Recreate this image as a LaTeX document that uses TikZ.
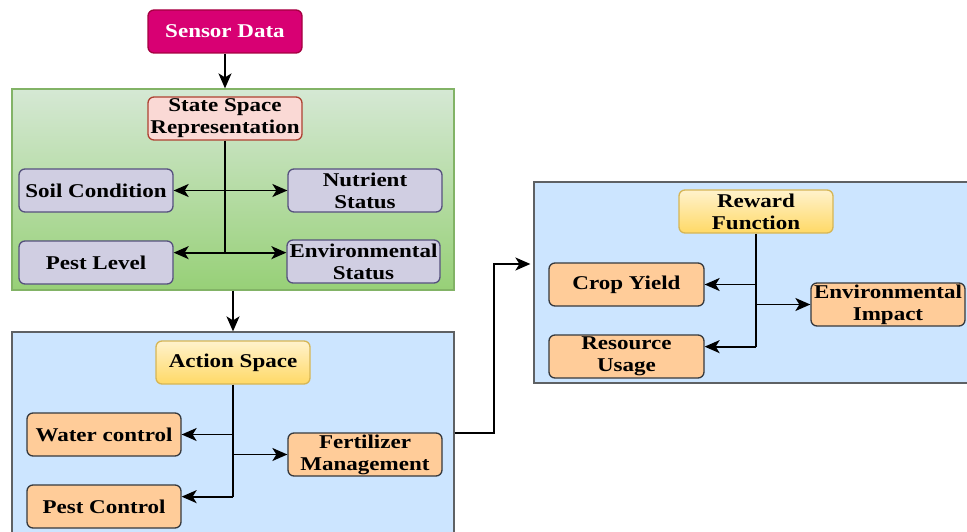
\documentclass[tikz,border=0pt]{standalone}
\usepackage{fontspec}
\newfontfamily\lbl{Liberation Serif}[FakeStretch=1.18]
\usetikzlibrary{arrows.meta,calc}
\definecolor{magfill}{HTML}{D80073}
\definecolor{magdraw}{HTML}{A50040}
\definecolor{pinkfill}{HTML}{FAD9D5}
\definecolor{pinkdraw}{HTML}{AE4132}
\definecolor{purfill}{HTML}{D0CEE2}
\definecolor{purdraw}{HTML}{56517E}
\definecolor{orfill}{HTML}{FFCC99}
\definecolor{darkdraw}{HTML}{36393D}
\definecolor{yeltop}{HTML}{FFF2CC}
\definecolor{yelbot}{HTML}{FFD966}
\definecolor{yeldraw}{HTML}{D6B656}
\definecolor{bluefill}{HTML}{CCE5FF}
\definecolor{grtop}{HTML}{D5E8D4}
\definecolor{grbot}{HTML}{97D077}
\definecolor{grdraw}{HTML}{82B366}
\begin{document}
\begin{tikzpicture}[x=1pt,y=-1pt,
  box/.style={rounded corners=6pt,line width=1.3pt,minimum width=154pt,minimum height=43pt,
    align=center,inner sep=0pt,font=\lbl\bfseries\fontsize{19.5}{22}\selectfont},
  magbox/.style={box,fill=magfill,draw=magdraw,text=white},
  pinkbox/.style={box,fill=pinkfill,draw=pinkdraw},
  purbox/.style={box,fill=purfill,draw=purdraw},
  orbox/.style={box,fill=orfill,draw=darkdraw},
  yelbox/.style={box,top color=yeltop,bottom color=yelbot,draw=yeldraw},
  cont/.style={rectangle,inner sep=0pt,line width=1.2pt},
  arr/.style={line width=1.7pt,-{Stealth[length=15pt,width=13pt,inset=4pt]}},
  ln/.style={line width=1.7pt}]
\useasboundingbox (0,0) rectangle (967,532);
% containers
\node[cont,top color=grtop,bottom color=grbot,draw=grdraw,minimum width=442pt,minimum height=201pt] (green) at (233,189.5) {};
\node[cont,fill=bluefill,draw=darkdraw!80,minimum width=442pt,minimum height=213pt] (blueA) at (233,438.5) {};
\node[cont,fill=bluefill,draw=darkdraw!80,minimum width=446pt,minimum height=201pt] (blueB) at (757,282.5) {};
% nodes
\node[magbox] (sensor) at (225,31.5) {Sensor Data};
\node[pinkbox] (state) at (225,118.5) {State Space\\Representation};
\node[purbox] (soil) at (96,190.5) {Soil Condition};
\node[purbox] (nutrient) at (365,190.5) {Nutrient\\Status};
\node[purbox] (pest) at (96,262.5) {Pest Level};
\node[purbox,minimum width=153pt] (envstat) at (363.5,261.5) {Environmental\\Status};
\node[yelbox] (action) at (233,362.5) {Action Space};
\node[orbox] (water) at (104,434.5) {Water control};
\node[orbox] (pestc) at (104,506.5) {Pest Control};
\node[orbox] (fert) at (365,454.5) {Fertilizer\\Management};
\node[yelbox] (reward) at (756,211.5) {Reward\\Function};
\node[orbox,minimum width=155pt] (crop) at (626.5,284.5) {Crop Yield};
\node[orbox,minimum width=155pt] (resource) at (626.5,356.5) {Resource\\Usage};
\node[orbox] (envimp) at (888,304.5) {Environmental\\Impact};
% sensor to state container
\draw[arr] (sensor.south) -- (green.north -| sensor.south);
% state trunk
\coordinate (s1) at (state.south |- soil.east);
\coordinate (s2) at ($(state.south)+(0,112)$);
\draw[ln] (state.south) -- (s2);
\draw[arr] (s1) -- (soil.east);
\draw[arr] (s1) -- (nutrient.west);
\draw[arr] (s2) -- (s2 -| pest.east);
\draw[arr] (s2) -- (s2 -| envstat.west);
% green to blue
\draw[arr] (green.south) -- (blueA.north);
% action trunk
\coordinate (a1) at (action.south |- water.east);
\coordinate (a2) at (action.south |- fert.west);
\coordinate (a3) at ($(action.south)+(0,112)$);
\draw[ln] (action.south) -- (a3);
\draw[arr] (a1) -- (water.east);
\draw[arr] (a2) -- (fert.west);
\draw[arr] (a3) -- (a3 -| pestc.east);
% link to reward container
\coordinate (l0) at ($(blueA.east)+(0,-5.5)$);
\coordinate (l1) at (494,264);
\draw[arr,shorten >=3pt] (l0) -- (l0 -| l1) -- (l1) -- (l1 -| blueB.west);
% reward trunk
\coordinate (r1) at (reward.south |- crop.east);
\coordinate (r2) at (reward.south |- envimp.west);
\coordinate (r3) at ($(reward.south)+(0,113)$);
\draw[ln] (reward.south) -- (r3);
\draw[arr] (r1) -- (crop.east);
\draw[arr] (r2) -- (envimp.west);
\draw[arr] (r3) -- (r3 -| resource.east);
\end{tikzpicture}
\end{document}
